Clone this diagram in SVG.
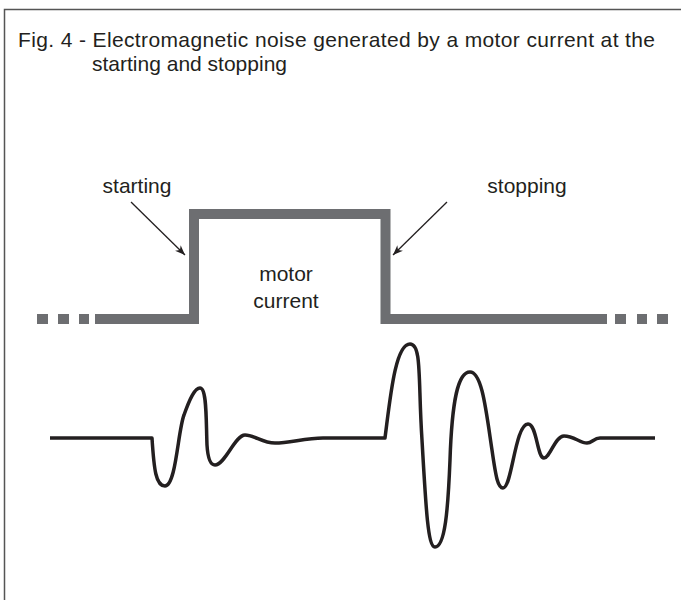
<svg xmlns="http://www.w3.org/2000/svg" width="681" height="600" viewBox="0 0 681 600">
<defs>
<style>
.t{font-family:"Liberation Sans",Arial,Helvetica,sans-serif;fill:#231f20;}
.title{font-size:21px;}
.lbl{font-size:21px;}
.frame{fill:none;stroke:#555;stroke-width:1.5;}
.sq{fill:none;stroke:#6d6e71;stroke-width:10;stroke-linejoin:miter;}
.dot{fill:#6d6e71;}
.wave{fill:none;stroke:#231f20;stroke-width:3.5;stroke-linejoin:round;}
.arr{fill:none;stroke:#231f20;stroke-width:1.3;}
</style>
<marker id="ah" viewBox="0 0 10 10" refX="10" refY="5" markerWidth="10" markerHeight="10" markerUnits="userSpaceOnUse" orient="auto">
<path d="M0,1 L10,5 L0,9 L3,5 Z" fill="#231f20"/>
</marker>
</defs>
<path class="frame" d="M4.5,600 L4.5,9.5 L681,9.5"/>
<g id="title">
<text class="t title" x="18" y="46.5" textLength="637" lengthAdjust="spacing">Fig. 4 - Electromagnetic noise generated by a motor current at the</text>
<text class="t title" x="92" y="71" textLength="195" lengthAdjust="spacing">starting and stopping</text>
</g>
<g id="motor-current">
<path class="sq" d="M95,319 L194,319 L194,214 L385.5,214 L385.5,319 L607,319"/>
<rect class="dot" x="37" y="314" width="11" height="10"/>
<rect class="dot" x="58" y="314" width="11" height="10"/>
<rect class="dot" x="79" y="314" width="10" height="10"/>
<rect class="dot" x="615" y="314" width="11" height="10"/>
<rect class="dot" x="637" y="314" width="10" height="10"/>
<rect class="dot" x="657" y="314" width="11" height="10"/>
<text class="t lbl" x="286" y="281" text-anchor="middle">motor</text>
<text class="t lbl" x="286" y="308" text-anchor="middle">current</text>
</g>
<g id="starting">
<text class="t lbl" x="137" y="193" text-anchor="middle">starting</text>
</g>
<g id="stopping">
<text class="t lbl" x="527" y="193" text-anchor="middle">stopping</text>
</g>
<g id="noise">
<path class="wave" d="M50,438 L152,438 C154,470 156,486 165,486 C176,486 178,430 184,415 C190,398 195,388 200,388 C207,388 206,420 207,445 C208,462 212,465 215,465 C225,465 235,435 245,435 C255,435 262,443 275,443 C290,443 305,438 323,438 L385,438 C390,400 395,344 410,344 C422,344 418,380 422,440 C426,510 428,547 435,547 C445,547 448,510 450,460 C452,400 458,372 470,372 C482,372 486,410 492,450 C496,478 498,488 503,488 C512,488 515,424 528,424 C537,424 537,458 544,458 C550,458 555,436 564,436 C574,436 580,443 587,443 C592,443 594,438 600,438 L655,438"/>
</g>
<g id="connectors">
<path class="arr" d="M131,202 L185,255" marker-end="url(#ah)"/>
<path class="arr" d="M447,202 L393,255" marker-end="url(#ah)"/>
</g>
</svg>
